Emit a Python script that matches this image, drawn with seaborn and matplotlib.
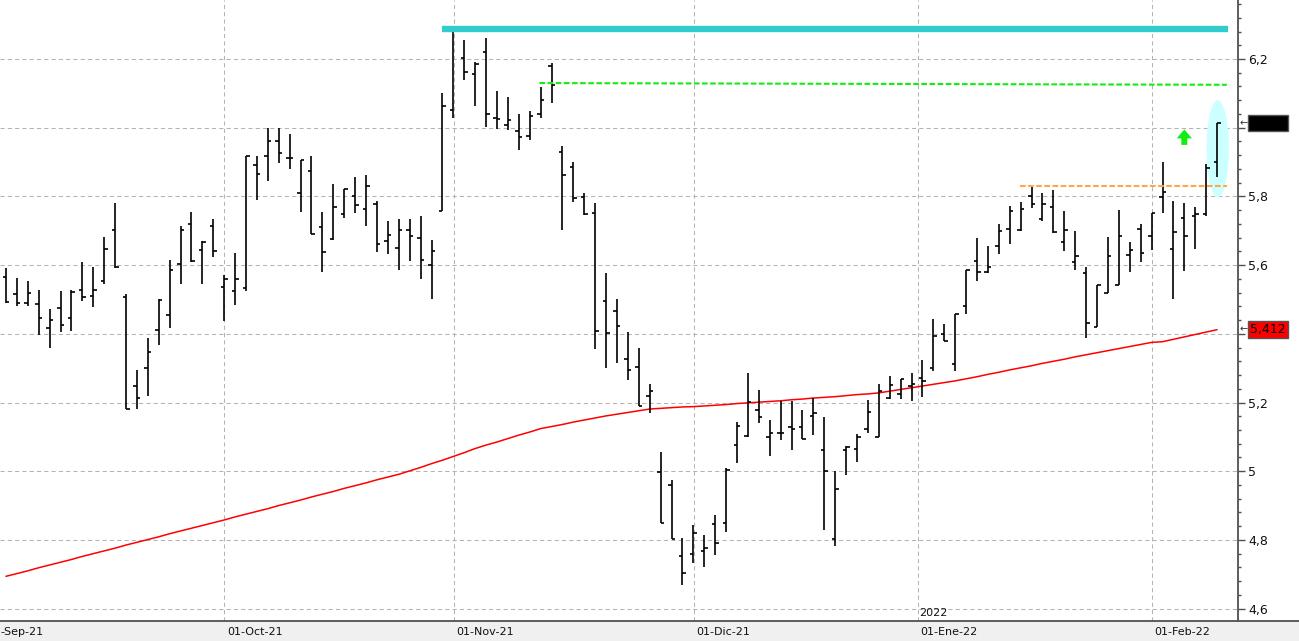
"""
Bar chart (OHLC) with 200-day style moving average, resistance lines
"""
# %%
import numpy as np
import pandas as pd
import matplotlib
matplotlib.use("Agg")
import matplotlib.pyplot as plt
import matplotlib.transforms as mtransforms
from matplotlib.patches import Ellipse, Rectangle
from matplotlib.lines import Line2D
from matplotlib.ticker import MultipleLocator, FuncFormatter
import seaborn as sns

# %% data (one bar per session, Sep-21 .. Feb-22)
opens = [5.565, 5.516, 5.490, 5.487, 5.418, 5.475, 5.447, 5.528, 5.510, 5.554,
         5.701, 5.507, 5.249, 5.299, 5.412, 5.455, 5.603, 5.719, 5.643, 5.713,
         5.536, 5.525, 5.532, 5.890, 5.919, 5.962, 5.913, 5.810, 5.875, 5.711,
         5.677, 5.748, 5.800, 5.762, 5.777, 5.670, 5.649, 5.701, 5.678, 5.600,
         5.758, 6.051, 6.203, 6.156, 6.220, 6.027, 6.007, 5.989, 5.975, 6.039,
         6.180, 5.928, 5.886, 5.799, 5.751, 5.496, 5.467, 5.328, 5.304, 5.218,
         4.997, 4.959, 4.754, 4.760, 4.768, 4.846, 4.849, 5.075, 5.103, 5.177,
         5.101, 5.111, 5.128, 5.128, 5.162, 5.062, 4.803, 5.062, 5.064, 5.123,
         5.100, 5.212, 5.224, 5.247, 5.270, 5.301, 5.400, 5.311, 5.481, 5.613,
         5.580, 5.656, 5.704, 5.701, 5.800, 5.735, 5.768, 5.666, 5.610, 5.576,
         5.421, 5.519, 5.542, 5.630, 5.704, 5.685, 5.799, 5.648, 5.738, 5.744,
         5.749, 5.899]
highs = [5.591, 5.563, 5.555, 5.528, 5.473, 5.526, 5.528, 5.610, 5.595, 5.682,
         5.781, 5.516, 5.294, 5.389, 5.500, 5.615, 5.714, 5.755, 5.670, 5.734,
         5.572, 5.636, 5.919, 5.919, 5.998, 6.000, 5.983, 5.905, 5.919, 5.755,
         5.836, 5.823, 5.856, 5.862, 5.787, 5.728, 5.733, 5.733, 5.743, 5.672,
         6.100, 6.296, 6.256, 6.191, 6.261, 6.107, 6.089, 6.039, 6.049, 6.119,
         6.188, 5.948, 5.899, 5.811, 5.781, 5.578, 5.502, 5.404, 5.360, 5.255,
         5.056, 4.975, 4.806, 4.843, 4.813, 4.873, 5.009, 5.143, 5.287, 5.236,
         5.149, 5.204, 5.204, 5.178, 5.214, 5.157, 5.000, 5.073, 5.108, 5.207,
         5.253, 5.276, 5.268, 5.285, 5.323, 5.443, 5.429, 5.458, 5.586, 5.680,
         5.656, 5.719, 5.771, 5.783, 5.826, 5.809, 5.820, 5.757, 5.700, 5.595,
         5.543, 5.682, 5.759, 5.668, 5.719, 5.753, 5.900, 5.786, 5.780, 5.770,
         5.894, 6.014]
lows = [5.490, 5.480, 5.480, 5.397, 5.358, 5.405, 5.408, 5.496, 5.477, 5.544,
        5.592, 5.180, 5.180, 5.218, 5.367, 5.416, 5.544, 5.610, 5.544, 5.625,
        5.436, 5.483, 5.525, 5.790, 5.845, 5.897, 5.880, 5.756, 5.690, 5.579,
        5.674, 5.736, 5.753, 5.715, 5.637, 5.632, 5.586, 5.611, 5.561, 5.501,
        5.758, 6.029, 6.140, 6.064, 6.003, 5.997, 5.994, 5.936, 5.965, 6.029,
        6.073, 5.701, 5.783, 5.746, 5.356, 5.300, 5.315, 5.266, 5.190, 5.168,
        4.849, 4.803, 4.669, 4.733, 4.722, 4.757, 4.822, 5.025, 5.099, 5.141,
        5.043, 5.092, 5.063, 5.095, 5.106, 4.828, 4.782, 4.990, 5.028, 5.110,
        5.100, 5.209, 5.209, 5.205, 5.215, 5.292, 5.380, 5.292, 5.458, 5.553,
        5.577, 5.632, 5.661, 5.698, 5.766, 5.729, 5.693, 5.640, 5.586, 5.388,
        5.421, 5.519, 5.542, 5.581, 5.608, 5.643, 5.751, 5.502, 5.583, 5.647,
        5.744, 5.856]
closes = [5.492, 5.489, 5.519, 5.447, 5.441, 5.426, 5.523, 5.507, 5.528, 5.646,
          5.595, 5.180, 5.212, 5.348, 5.497, 5.586, 5.701, 5.612, 5.667, 5.641,
          5.559, 5.559, 5.919, 5.864, 5.960, 5.927, 5.913, 5.905, 5.690, 5.638,
          5.769, 5.823, 5.774, 5.829, 5.662, 5.688, 5.701, 5.684, 5.614, 5.641,
          6.062, 6.282, 6.162, 6.186, 6.039, 6.024, 6.022, 5.972, 6.033, 6.080,
          6.125, 5.863, 5.795, 5.749, 5.409, 5.403, 5.423, 5.294, 5.190, 5.233,
          4.849, 4.803, 4.705, 4.820, 4.775, 4.791, 5.004, 5.133, 5.202, 5.157,
          5.111, 5.111, 5.122, 5.095, 5.168, 5.000, 4.949, 5.070, 5.099, 5.172,
          5.233, 5.250, 5.268, 5.253, 5.262, 5.395, 5.380, 5.458, 5.586, 5.579,
          5.595, 5.700, 5.758, 5.764, 5.779, 5.779, 5.695, 5.701, 5.627, 5.431,
          5.543, 5.627, 5.685, 5.643, 5.635, 5.753, 5.814, 5.695, 5.686, 5.750,
          5.884, 6.014]
sma = [4.694, 4.702, 4.710, 4.719, 4.727, 4.735, 4.743, 4.752, 4.760, 4.768,
       4.776, 4.785, 4.793, 4.801, 4.809, 4.818, 4.826, 4.834, 4.842, 4.850,
       4.858, 4.867, 4.875, 4.883, 4.891, 4.900, 4.908, 4.916, 4.925, 4.933,
       4.941, 4.950, 4.958, 4.966, 4.975, 4.983, 4.991, 5.001, 5.011, 5.022,
       5.032, 5.043, 5.054, 5.066, 5.076, 5.085, 5.095, 5.105, 5.114, 5.124,
       5.130, 5.136, 5.143, 5.149, 5.155, 5.161, 5.166, 5.171, 5.176, 5.181,
       5.183, 5.185, 5.187, 5.188, 5.190, 5.192, 5.194, 5.197, 5.199, 5.201,
       5.203, 5.205, 5.208, 5.210, 5.213, 5.215, 5.217, 5.220, 5.223, 5.225,
       5.228, 5.233, 5.238, 5.243, 5.248, 5.253, 5.258, 5.263, 5.269, 5.275,
       5.282, 5.288, 5.295, 5.301, 5.307, 5.314, 5.320, 5.326, 5.333, 5.339,
       5.345, 5.351, 5.357, 5.363, 5.369, 5.375, 5.377, 5.384, 5.391, 5.398,
       5.405, 5.412]

# month starts (bar index); Sep-21 starts left of the view so only its tail shows
month_pos = [-2.1, 20.0, 41.03, 63.02, 83.55, 105.0]
month_labels = ["-Sep-21", "01-Oct-21", "01-Nov-21", "01-Dic-21", "01-Ene-22", "01-Feb-22"]

# drawn levels
resist_top = 6.287        # cyan line
resist_green = (6.130, 6.125)
resist_orange = 5.830

# %%
df = pd.DataFrame({"open": opens, "high": highs, "low": lows, "close": closes, "sma": sma})
df["idx"] = np.arange(len(df))
print(df.shape)

sns.set_style("white")
plt.rcParams["font.family"] = ["DejaVu Sans"]

fig = plt.figure(figsize=(12.99, 6.41), dpi=100)
ax = fig.add_axes([0, 20 / 641, 1238 / 1299, 621 / 641])

# gray date band at the bottom
fig.patches.append(Rectangle((0, 0), 1, 20 / 641, transform=fig.transFigure,
                             fc="#F0F0F0", ec="none", zorder=-1))
fig.add_artist(Line2D([0, 1], [20 / 641, 20 / 641], transform=fig.transFigure,
                      color="#505050", lw=1.3))

# highlight ellipse behind the last bar
ax.add_patch(Ellipse((111.06, 5.939), width=2.05, height=0.283,
                     fc="#CCFFFF", ec="none", zorder=1))

# moving average
sns.lineplot(data=df, x="idx", y="sma", color="#FF0000", lw=1.1, ax=ax, zorder=2)

# OHLC bars
ax.vlines(df["idx"], df["low"], df["high"], color="black", lw=1.2, zorder=3)
ax.hlines(df["open"], df["idx"] - 0.32, df["idx"], color="black", lw=1.2, zorder=3)
ax.hlines(df["close"], df["idx"], df["idx"] + 0.32, color="black", lw=1.2, zorder=3)

# lines drawn by hand on the chart
ax.plot([39.96, 112.0], [resist_top, resist_top], color="#33CCCC", lw=4.6,
        solid_capstyle="butt", zorder=4)
ax.plot([48.9, 111.9], list(resist_green), color="#11EE11", lw=1.5,
        ls=(0, (2.7, 1.2)), zorder=4)
ax.plot([92.9, 111.9], [resist_orange, resist_orange], color="#FFA64D", lw=1.5,
        ls=(0, (2.7, 1.2)), zorder=4)
ax.arrow(108.0, 5.950, 0, 0.045, width=0.55, head_width=1.4, head_length=0.026,
         length_includes_head=True, color="#11EE11", ec="none", zorder=4)

# axes styling
for s in ["top", "left", "bottom"]:
    ax.spines[s].set_visible(False)
ax.spines["right"].set_color("#505050")
ax.spines["right"].set_linewidth(1.3)


def price_fmt(v, p):
    v = round(v, 1)
    # 6 and 5,4 sit under the price boxes
    if v in (6.0, 5.4):
        return ""
    return f"{v:g}".replace(".", ",")


ax.yaxis.tick_right()
ax.yaxis.set_major_locator(MultipleLocator(0.2))
ax.yaxis.set_minor_locator(MultipleLocator(0.04))
ax.yaxis.set_major_formatter(FuncFormatter(price_fmt))
ax.tick_params(axis="y", which="major", length=5, width=1, color="#505050",
               labelsize=9, pad=2.5, labelcolor="#111111")
ax.tick_params(axis="y", which="minor", length=2.5, width=1, color="#505050")

ax.set_xticks(month_pos)
ax.tick_params(axis="x", direction="out", length=4.5, width=1, color="#505050",
               labelbottom=False)
ax.grid(True, which="major", color="#B4B4B4", lw=0.75, ls=(0, (4, 3)))
ax.set_xlabel("")
ax.set_ylabel("")

# limits last (seaborn and set_xticks both move them)
ax.set_xlim(-0.55, 112.92)
ax.set_ylim(4.5639, 6.3718)

# date labels in the gray band
tr = mtransforms.blended_transform_factory(ax.transData, ax.transAxes)
for pos, lab in zip(month_pos, month_labels):
    x = pos + 0.28 if pos >= 0 else -0.5
    ax.text(x, -0.017, lab, transform=tr, ha="left", va="center",
            fontsize=8, color="#111111", clip_on=False)
ax.text(83.55 + 0.15, 0.013, "2022", transform=tr, ha="left", va="center",
        fontsize=8, color="#111111")

# price boxes on the right scale
tr_y = mtransforms.blended_transform_factory(ax.transAxes, ax.transData)
ax.text(1250 / 1238, closes[-1], "6,014", transform=tr_y, ha="left", va="center",
        fontsize=9, color="black", clip_on=False, zorder=10,
        bbox=dict(boxstyle="square,pad=0.15", fc="black", ec="#555555", lw=1))
ax.text(1250 / 1238, sma[-1], "5,412", transform=tr_y, ha="left", va="center",
        fontsize=9, color="black", clip_on=False, zorder=10,
        bbox=dict(boxstyle="square,pad=0.15", fc="#FF0000", ec="#555555", lw=1))
for v in [closes[-1], sma[-1]]:
    ax.text(1239.5 / 1238, v, "←", transform=tr_y, ha="left", va="center",
            fontsize=7, color="#333333", clip_on=False, zorder=10)

fig.savefig("out.png", dpi=100)
